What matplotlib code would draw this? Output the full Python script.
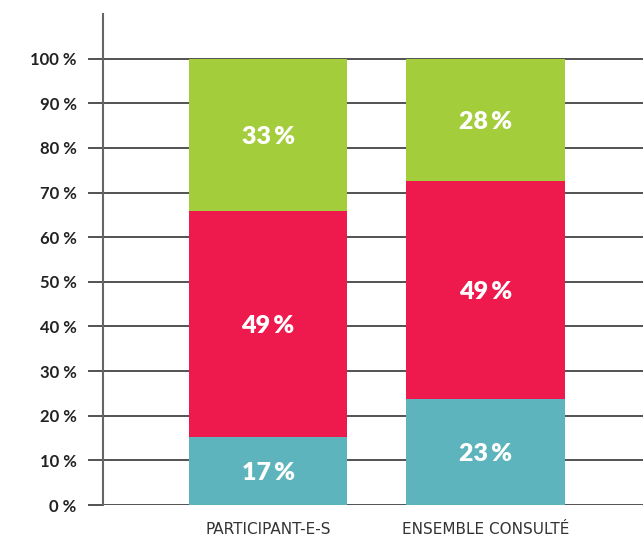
import matplotlib.pyplot as plt
import numpy as np

# Data
categories = ["PARTICIPANT-E-S", "ENSEMBLE CONSULTÉ"]
teal_vals = [15.3, 23.8]
red_vals = [50.6, 48.8]
green_vals = [34.1, 27.4]
teal_labels = ["17\u2009%", "23\u2009%"]
red_labels = ["49\u2009%", "49\u2009%"]
green_labels = ["33\u2009%", "28\u2009%"]
yticks = np.arange(0, 101, 10)
ytick_labels = [f"{v} %" for v in yticks]

teal = "#5EB4BC"
red = "#EE194C"
green = "#A3CD3B"

fig = plt.figure(figsize=(6.43, 5.38), dpi=100)
ax = fig.add_axes([103 / 643, 1 - 505 / 538, 540 / 643, 491 / 538])

x = np.arange(len(categories))
width = 0.727

teal_arr = np.array(teal_vals)
red_arr = np.array(red_vals)
green_arr = np.array(green_vals)

# gridlines under bars
for v in yticks:
    ax.axhline(v, color="#444444", lw=1.3, zorder=1)

ax.bar(x, teal_arr, width, color=teal, zorder=2)
ax.bar(x, red_arr, width, bottom=teal_arr, color=red, zorder=2)
ax.bar(x, green_arr, width, bottom=teal_arr + red_arr, color=green, zorder=2)

# value labels, centred in each segment
bottoms = [np.zeros(len(x)), teal_arr, teal_arr + red_arr]
for vals, labels, bot in zip([teal_arr, red_arr, green_arr],
                             [teal_labels, red_labels, green_labels], bottoms):
    for xi, v, lab, b in zip(x, vals, labels, bot):
        ax.text(xi, b + v / 2, lab, ha="center", va="center_baseline", color="white",
                fontsize=18, fontweight="heavy", family=["Lato", "DejaVu Sans"], zorder=3)

ax.set_xlim(-0.759, 1.724)
ax.set_ylim(0, 110)
ax.set_yticks(yticks)
ax.set_yticklabels(ytick_labels, family="Lato", fontweight="bold",
                   fontsize=12, color="#222222")
ax.tick_params(axis="y", length=11, width=1.3, color="#444444", pad=8)
ax.set_xticks(x)
ax.set_xticklabels(categories, family=["Liberation Sans Narrow", "DejaVu Sans"],
                   fontsize=11, color="#333333")
ax.tick_params(axis="x", length=0, pad=12)

for side in ["top", "right", "bottom"]:
    ax.spines[side].set_visible(False)
ax.spines["left"].set_color("#666666")
ax.spines["left"].set_linewidth(1.5)

fig.savefig("out.png", dpi=100)
